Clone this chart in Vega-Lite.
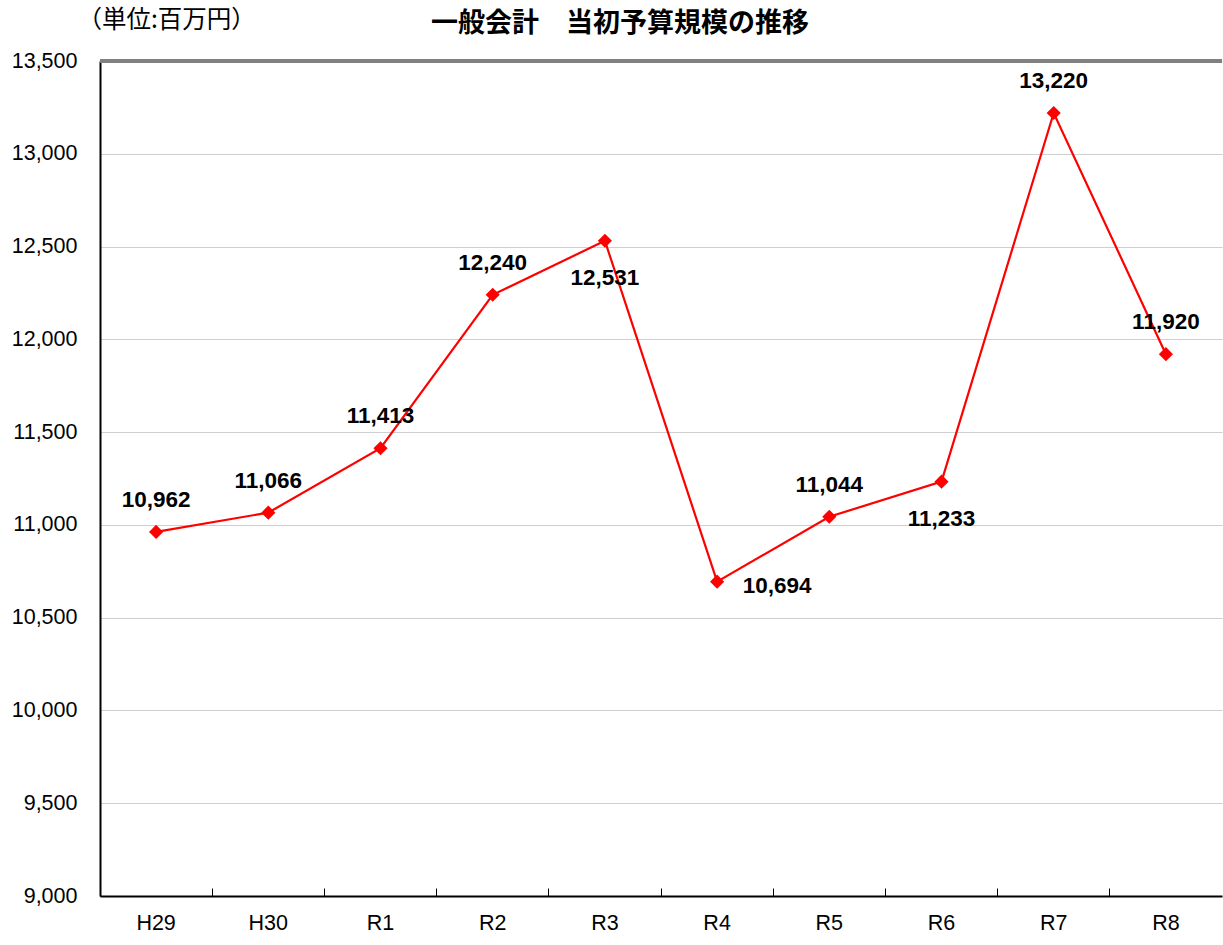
{
  "$schema": "https://vega.github.io/schema/vega-lite/v6.json",
  "width": 1122,
  "height": 835,
  "autosize": "none",
  "padding": {"left": 100, "top": 61, "right": 1, "bottom": 49},
  "background": "white",
  "config": {"view": {"stroke": null}},
  "title": {
    "text": "一般会計　当初予算規模の推移",
    "font": "Noto Sans CJK JP",
    "fontSize": 27,
    "fontWeight": "bold",
    "color": "black",
    "anchor": "middle",
    "frame": "group",
    "dx": -41,
    "offset": -31
  },
  "data": {
    "values": [
      {"year": "H29", "value": 10962, "pos": "above"},
      {"year": "H30", "value": 11066, "pos": "above"},
      {"year": "R1", "value": 11413, "pos": "above"},
      {"year": "R2", "value": 12240, "pos": "above"},
      {"year": "R3", "value": 12531, "pos": "below"},
      {"year": "R4", "value": 10694, "pos": "right"},
      {"year": "R5", "value": 11044, "pos": "above"},
      {"year": "R6", "value": 11233, "pos": "below"},
      {"year": "R7", "value": 13220, "pos": "above"},
      {"year": "R8", "value": 11920, "pos": "above"}
    ]
  },
  "encoding": {
    "x": {
      "field": "year",
      "type": "ordinal",
      "sort": null,
      "scale": {"type": "band", "paddingInner": 0, "paddingOuter": 0},
      "axis": {
        "title": null,
        "labelAngle": 0,
        "labelFont": "Liberation Sans",
        "labelFontSize": 21.5,
        "labelColor": "black",
        "labelPadding": 24,
        "bandPosition": 0,
        "ticks": true,
        "tickSize": -8,
        "tickColor": "black",
        "tickWidth": 1,
        "domainColor": "black",
        "domainWidth": 2,
        "grid": false
      }
    },
    "y": {
      "field": "value",
      "type": "quantitative",
      "scale": {"domain": [9000, 13500], "nice": false, "zero": false},
      "axis": {
        "values": [9000, 9500, 10000, 10500, 11000, 11500, 12000, 12500, 13000, 13500],
        "format": ",.0f",
        "grid": true,
        "gridColor": "#cfcfcf",
        "gridWidth": 1,
        "ticks": false,
        "domainColor": "black",
        "domainWidth": 2,
        "labelFont": "Liberation Sans",
        "labelFontSize": 21.5,
        "labelColor": "black",
        "labelPadding": 23,
        "title": "（単位:百万円）",
        "titleFont": "Noto Sans CJK JP",
        "titleFontSize": 24.5,
        "titleFontWeight": "normal",
        "titleColor": "black",
        "titleAngle": 0,
        "titleAlign": "left",
        "titleBaseline": "middle",
        "titleX": -23,
        "titleY": -41
      }
    }
  },
  "layer": [
    {
      "mark": {"type": "rule", "color": "#808080", "strokeWidth": 3},
      "encoding": {"y": {"datum": 13500}, "x": {"value": 0}, "x2": {"value": 1122}}
    },
    {
      "mark": {"type": "line", "color": "#ff0000", "strokeWidth": 2.2}
    },
    {
      "mark": {"type": "point", "shape": "diamond", "filled": true, "color": "#ff0000", "size": 200, "opacity": 1}
    },
    {
      "transform": [{"filter": "datum.pos === 'above'"}],
      "mark": {"type": "text", "dy": -32, "font": "Liberation Sans", "fontSize": 22.5, "fontWeight": "bold", "color": "black", "baseline": "middle"},
      "encoding": {"text": {"field": "value", "type": "quantitative", "format": ","}}
    },
    {
      "transform": [{"filter": "datum.pos === 'below'"}],
      "mark": {"type": "text", "dy": 37, "font": "Liberation Sans", "fontSize": 22.5, "fontWeight": "bold", "color": "black", "baseline": "middle"},
      "encoding": {"text": {"field": "value", "type": "quantitative", "format": ","}}
    },
    {
      "transform": [{"filter": "datum.pos === 'right'"}],
      "mark": {"type": "text", "dx": 60, "dy": 4, "font": "Liberation Sans", "fontSize": 22.5, "fontWeight": "bold", "color": "black", "baseline": "middle"},
      "encoding": {"text": {"field": "value", "type": "quantitative", "format": ","}}
    }
  ]
}
